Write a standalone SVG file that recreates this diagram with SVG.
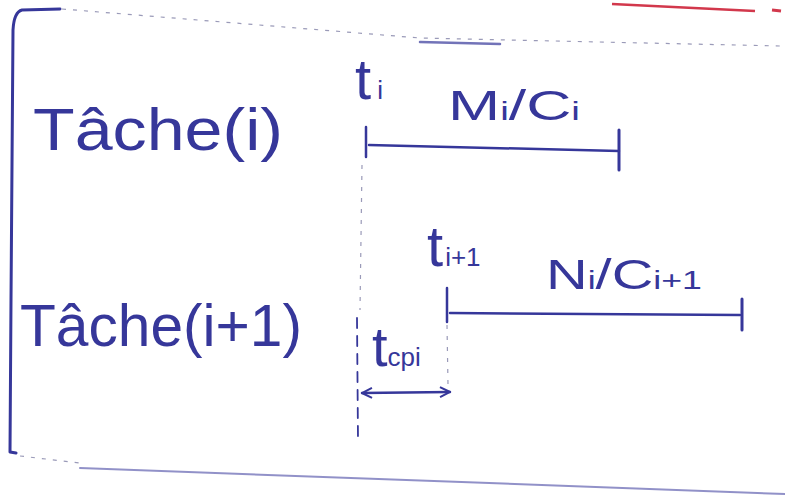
<svg xmlns="http://www.w3.org/2000/svg" width="785" height="495" viewBox="0 0 785 495">
<style>
.ink{stroke:#36379a;fill:none;stroke-linecap:round;stroke-linejoin:round}
.faint{stroke:#9a9ab8;fill:none;stroke-width:1.2;stroke-dasharray:4 7}
.lbl{font-family:"Liberation Sans","DejaVu Sans",sans-serif;fill:#36379a;font-weight:normal}
.sub{font-size:26px}
</style>
<defs>
<marker id="chev" viewBox="0 0 12 12" refX="11" refY="6" markerWidth="12" markerHeight="12" markerUnits="userSpaceOnUse" orient="auto-start-reverse">
<path d="M1,1 L11,6 L1,11" fill="none" stroke="#36379a" stroke-width="2"/>
</marker>
</defs>
<rect width="785" height="495" fill="#ffffff"/>
<g id="frame">
<path class="ink" stroke-width="3" d="M60,9 L22,10 Q14,12 13,30 L11,300 L10,452 L16,453"/>
<path class="faint" d="M62,9 L420,38 L780,46"/>
<path class="ink" stroke-width="2.5" opacity="0.7" d="M420,42 L500,44"/>
<path class="faint" d="M20,456 L80,463"/>
<path class="ink" stroke-width="2" opacity="0.55" d="M80,468 L785,494"/>
<path stroke="#d2384c" stroke-width="2.5" fill="none" d="M612,4 L755,11"/>
<path stroke="#d2384c" stroke-width="3" fill="none" d="M772,10 L781,11"/>
</g>
<g id="tache-i">
<text class="lbl" x="33" y="150" font-size="60" textLength="250" lengthAdjust="spacingAndGlyphs">Tâche(i)</text>
</g>
<g id="tache-i1">
<text class="lbl" x="20" y="346" font-size="60" textLength="282" lengthAdjust="spacingAndGlyphs">Tâche(i+1)</text>
</g>
<g id="interval-i">
<text class="lbl" x="355" y="99" font-size="58">t<tspan class="sub" dx="6">i</tspan></text>
<text class="lbl" x="448" y="120" font-size="42" textLength="132" lengthAdjust="spacingAndGlyphs">M<tspan class="sub">i</tspan>/C<tspan class="sub">i</tspan></text>
</g>
<g id="interval-i1">
<text class="lbl" x="427" y="266" font-size="58">t<tspan class="sub" dx="2">i+1</tspan></text>
<text class="lbl" x="546" y="289" font-size="42" textLength="156" lengthAdjust="spacingAndGlyphs">N<tspan class="sub">i</tspan>/C<tspan class="sub">i+1</tspan></text>
</g>
<g id="tcp">
<text class="lbl" x="372" y="366" font-size="56">t<tspan class="sub">cpi</tspan></text>
</g>
<g id="connectors">
<path class="ink" stroke-width="2.5" d="M366,127 L366,157"/>
<path class="ink" stroke-width="2.5" d="M369,145 L619,151"/>
<path class="ink" stroke-width="3" d="M619,130 L619,170"/>
<path class="ink" stroke-width="2.5" d="M447,288 L447,322"/>
<path class="ink" stroke-width="2.5" d="M450,313 L740,315"/>
<path class="ink" stroke-width="3" d="M742,299 L742,330"/>
<path class="faint" d="M362,165 L360,310"/>
<path class="ink" stroke-width="1.8" stroke-dasharray="10 8" d="M357,318 L358,440"/>
<path class="faint" d="M447,325 L448,385"/>
<path class="ink" stroke-width="2.5" marker-start="url(#chev)" marker-end="url(#chev)" d="M362,393 L450,392"/>
</g>
</svg>
